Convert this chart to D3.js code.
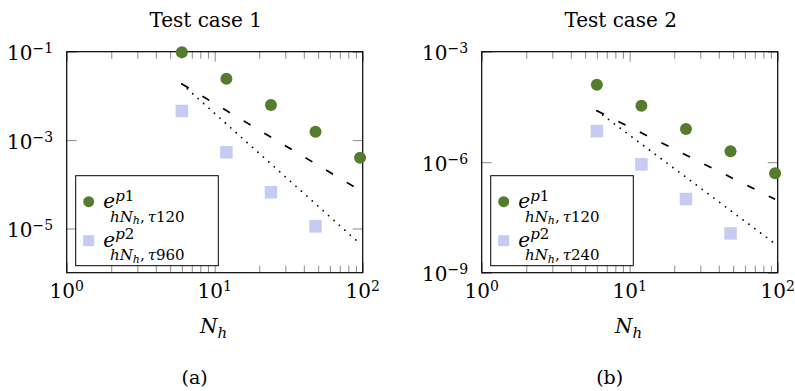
<!DOCTYPE html>
<html><head><meta charset="utf-8">
<script src="https://cdn.jsdelivr.net/npm/d3@7/dist/d3.min.js"></script>
<style>body{margin:0;background:#fff}</style>
</head><body>
<svg id="chart" width="795" height="391"></svg>
<script>
// ---------- data ----------
const Nh = [6, 12, 24, 48, 96];
const NhP2 = [6, 12, 24, 48];
const caseTitles = ["Test case 1", "Test case 2"];
const subfigTags = ["(a)", "(b)"];
const p1ErrorCase1 = [0.097, 0.0245, 0.0062, 0.00155, 0.0004];
const p2ErrorCase1 = [0.00455, 0.00053, 0.000066, 0.0000112];
const p1ErrorCase2 = [1.27e-4, 3.42e-5, 7.96e-6, 1.97e-6, 5.0e-7];
const p2ErrorCase2 = [7.0e-6, 8.75e-7, 1.0e-7, 1.17e-8];
const dashedRefCase1 = [[6, 0.0186], [96, 7.3e-5]];
const dottedRefCase1 = [[6, 0.0186], [96, 4.5e-6]];
const dashedRefCase2 = [[6, 2.5e-5], [96, 9.8e-8]];
const dottedRefCase2 = [[6, 2.5e-5], [96, 6.1e-9]];
const xDomain = [1, 100];
const yDomainCase1 = [1e-6, 1e-1];
const yDomainCase2 = [1e-9, 1e-3];
const xTickExponents = [0, 1, 2];
const xMinorTicks = [2,3,4,5,6,7,8,9,20,30,40,50,60,70,80,90];
const yTickExponentsCase1 = [-1, -3, -5];
const yTickExponentsCase2 = [-3, -6, -9];
const tauCase1 = ["120", "960"];
const tauCase2 = ["120", "240"];
const legendSup = ["1", "2"];

// ---------- layout ----------
const serif = "DejaVu Serif";
const green = "#557b2f", lilac = "#c5cbf3", tickCol = "#8a8a8a";
const plotW = 296, plotTop = 51.7, plotBottom = 272.7;
const panels = [
  {left: 66.7, title: caseTitles[0], tag: subfigTags[0], p1: p1ErrorCase1, p2: p2ErrorCase1,
   dashed: dashedRefCase1, dotted: dottedRefCase1, yDomain: yDomainCase1, yExp: yTickExponentsCase1, tau: tauCase1},
  {left: 481.7, title: caseTitles[1], tag: subfigTags[1], p1: p1ErrorCase2, p2: p2ErrorCase2,
   dashed: dashedRefCase2, dotted: dottedRefCase2, yDomain: yDomainCase2, yExp: yTickExponentsCase2, tau: tauCase2}
];
const supMinus = e => (e < 0 ? "\u2212" + Math.abs(e) : String(e));

const svg = d3.select("#chart");

panels.forEach(p => {
  const x = d3.scaleLog().domain(xDomain).range([p.left, p.left + plotW]);
  const y = d3.scaleLog().domain(p.yDomain).range([plotBottom, plotTop]);
  const g = svg.append("g");

  const strip = sel => { sel.select(".domain").remove(); sel.selectAll("text").remove();
                         sel.selectAll("line").attr("stroke", tickCol); };
  const yTickVals = p.yExp.map(e => Math.pow(10, e));
  const majX = xTickExponents.map(e => Math.pow(10, e));
  g.append("g").attr("transform", `translate(0,${plotTop})`)
    .call(d3.axisBottom(x).tickValues(xMinorTicks).tickSize(7)).call(strip);
  g.append("g").attr("transform", `translate(0,${plotTop})`)
    .call(d3.axisBottom(x).tickValues(majX).tickSize(10)).call(strip);
  g.append("g").attr("transform", `translate(0,${plotBottom})`)
    .call(d3.axisTop(x).tickValues(xMinorTicks).tickSize(7)).call(strip);
  g.append("g").attr("transform", `translate(0,${plotBottom})`)
    .call(d3.axisTop(x).tickValues(majX).tickSize(10)).call(strip);
  g.append("g").attr("transform", `translate(${p.left},0)`)
    .call(d3.axisRight(y).tickValues(yTickVals).tickSize(10)).call(strip);
  g.append("g").attr("transform", `translate(${p.left + plotW},0)`)
    .call(d3.axisLeft(y).tickValues(yTickVals).tickSize(10)).call(strip);

  g.append("rect").attr("x", p.left).attr("y", plotTop).attr("width", plotW).attr("height", plotBottom - plotTop)
    .attr("fill", "none").attr("stroke", "#000").attr("stroke-width", 1.2);

  const line = d3.line().x(d => x(d[0])).y(d => y(d[1]));
  g.append("path").attr("d", line(p.dotted)).attr("fill", "none").attr("stroke", "#000")
    .attr("stroke-width", 1.8).attr("stroke-linecap", "round").attr("stroke-dasharray", "0,7.3");
  g.append("path").attr("d", line(p.dashed)).attr("fill", "none").attr("stroke", "#000")
    .attr("stroke-width", 1.7).attr("stroke-dasharray", "8,16");

  g.selectAll(".sq").data(p.p2).join("rect")
    .attr("x", (d, i) => x(NhP2[i]) - 6.25).attr("y", d => y(d) - 6.25)
    .attr("width", 12.5).attr("height", 12.5).attr("fill", lilac);
  g.selectAll(".ci").data(p.p1).join("circle")
    .attr("cx", (d, i) => x(Nh[i])).attr("cy", d => y(d)).attr("r", 6).attr("fill", green);

  xTickExponents.forEach(e => {
    const t = g.append("text").attr("x", x(Math.pow(10, e))).attr("y", 298.3)
      .attr("text-anchor", "middle").attr("font-family", serif).attr("font-size", 20).attr("fill", "#000");
    t.append("tspan").text("10");
    t.append("tspan").attr("font-size", 14).attr("dy", -7).text(supMinus(e));
  });
  p.yExp.forEach(e => {
    const t = g.append("text").attr("x", p.left - 13.5).attr("y", y(Math.pow(10, e)) + 8.5)
      .attr("text-anchor", "end").attr("font-family", serif).attr("font-size", 20).attr("fill", "#000");
    t.append("tspan").text("10");
    t.append("tspan").attr("font-size", 14).attr("dy", -7).text(supMinus(e));
  });

  g.append("text").attr("x", p.left + 139).attr("y", 27).attr("text-anchor", "middle")
    .attr("font-family", serif).attr("font-size", 20).text(p.title);
  const xl = g.append("text").attr("x", p.left + 147).attr("y", 333.3).attr("text-anchor", "middle")
    .attr("font-family", serif).attr("font-style", "italic").attr("font-size", 20);
  xl.append("tspan").text("N");
  xl.append("tspan").attr("font-size", 15).attr("dy", 5).text("h");
  g.append("text").attr("x", p.left + 128).attr("y", 384).attr("text-anchor", "middle")
    .attr("font-family", serif).attr("font-size", 19).text(p.tag);

  const lx = p.left + 9;
  g.append("rect").attr("x", lx).attr("y", 175.7).attr("width", 142.6).attr("height", 90)
    .attr("fill", "#fff").attr("stroke", "#000").attr("stroke-width", 1);
  g.append("circle").attr("cx", p.left + 22).attr("cy", 201.7).attr("r", 5.5).attr("fill", green);
  g.append("rect").attr("x", p.left + 22 - 5.5).attr("y", 240.7 - 5.5).attr("width", 11).attr("height", 11).attr("fill", lilac);
  [0, 1].forEach(k => {
    const by = 208.3 + k * 38.4;
    const ex = p.left + 36.6;
    // one text element per legend entry: e, superscript, and stacked subscript
    const t = g.append("text").attr("x", ex).attr("y", by).attr("font-family", serif).attr("font-size", 20);
    t.append("tspan").attr("font-style", "italic").text("e");
    t.append("tspan").attr("font-size", 15).attr("dy", -7.5).attr("font-style", "italic").text("p");
    t.append("tspan").attr("font-size", 15).text(legendSup[k]);
    t.append("tspan").attr("x", ex + 6.7).attr("y", by + 13.4).attr("font-size", 15).attr("font-style", "italic").text("hN");
    t.append("tspan").attr("font-style", "italic").attr("font-size", 11).attr("dy", 2.5).text("h");
    t.append("tspan").attr("font-size", 15).attr("dy", -2.5).text(",\u2009");
    t.append("tspan").attr("font-size", 15).attr("font-style", "italic").text("\u03c4");
    t.append("tspan").attr("font-size", 15).text(p.tau[k]);
  });
});
</script>
</body></html>
